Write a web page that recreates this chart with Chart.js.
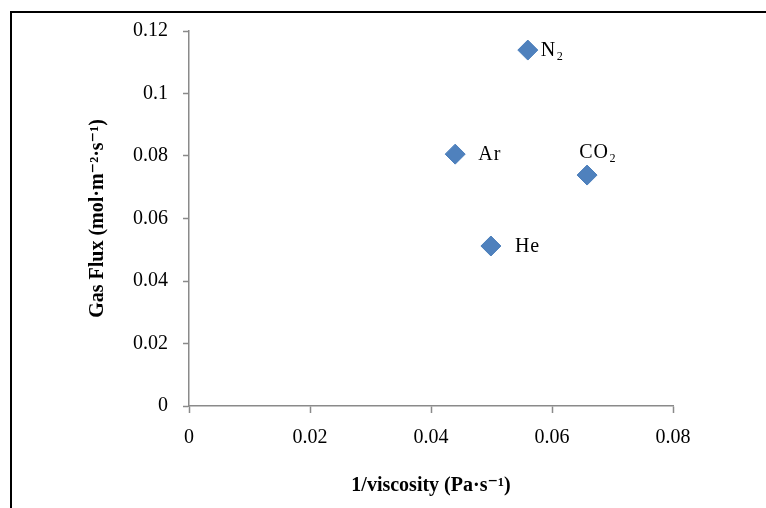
<!DOCTYPE html>
<html>
<head>
<meta charset="utf-8">
<script src="https://cdn.jsdelivr.net/npm/chart.js@4.4.1/dist/chart.umd.min.js"></script>
<style>
  html, body { margin: 0; padding: 0; background: #fff; }
  #wrap { width: 766px; height: 508px; }
</style>
</head>
<body>
<div id="wrap"><canvas id="myChart" width="766" height="508"></canvas></div>
<script>
// data
const gases = ["N₂", "Ar", "He", "CO₂"];
const invViscosity = [0.056, 0.044, 0.0499, 0.0658];
const gasFlux = [0.1139, 0.0806, 0.0512, 0.0739];
const xTicks = [0, 0.02, 0.04, 0.06, 0.08];
const yTicks = [0, 0.02, 0.04, 0.06, 0.08, 0.1, 0.12];

// where each label sits relative to its marker
const labelOffsets = [
  { dx: 13, dy: 1, align: "left" },
  { dx: 23, dy: 1, align: "left" },
  { dx: 24, dy: 1, align: "left" },
  { dx: 11, dy: -22, align: "center" },
];

const serif = "'Liberation Serif', 'Times New Roman', 'DejaVu Serif', serif";
const axisGrey = "#8a8a8a";

const frame = {
  id: "frame",
  afterDraw(chart) {
    const ctx = chart.ctx;
    ctx.save();
    ctx.strokeStyle = "#000";
    ctx.lineWidth = 2;
    ctx.strokeRect(11, 12, 770, 520);
    ctx.restore();
  },
};

const pointLabels = {
  id: "pointLabels",
  afterDatasetsDraw(chart) {
    const ctx = chart.ctx;
    const meta = chart.getDatasetMeta(0);
    ctx.save();
    ctx.font = "20px " + serif;
    ctx.letterSpacing = "1px";
    ctx.fillStyle = "#000";
    ctx.textBaseline = "middle";
    meta.data.forEach((pt, i) => {
      const o = labelOffsets[i];
      ctx.textAlign = o.align;
      ctx.fillText(gases[i], pt.x + o.dx, pt.y + o.dy);
    });
    ctx.restore();
  },
};

const points = invViscosity.map((x, i) => ({ x, y: gasFlux[i] }));

const config = {
  type: "scatter",
  data: {
    datasets: [
      {
        data: points,
        pointStyle: "rectRot",
        pointRadius: 10,
        pointHoverRadius: 10,
        backgroundColor: "#4F81BD",
        borderColor: "#4A7EBB",
        borderWidth: 1,
      },
    ],
  },
  options: {
    responsive: false,
    animation: false,
    layout: { padding: { top: 31, right: 93, left: 0, bottom: 0 } },
    plugins: {
      legend: { display: false },
      tooltip: { enabled: false },
    },
    scales: {
      x: {
        type: "linear",
        min: 0,
        max: 0.08,
        afterFit: (scale) => { scale.height = 102; },
        afterBuildTicks: (scale) => { scale.ticks = xTicks.map((v) => ({ value: v })); },
        grid: {
          drawOnChartArea: false,
          drawTicks: true,
          tickLength: 7,
          tickWidth: 1.5,
          tickColor: axisGrey,
        },
        border: { color: axisGrey, width: 1.5 },
        ticks: {
          padding: 13,
          color: "#000",
          font: { family: serif, size: 20 },
          callback: (v) => String(Number(v.toFixed(2))),
        },
        title: {
          display: true,
          text: "1/viscosity (Pa·s⁻¹)",
          color: "#000",
          font: { family: serif, size: 20, weight: "bold" },
          padding: { top: 0, bottom: 10 },
        },
      },
      y: {
        type: "linear",
        min: 0,
        max: 0.12,
        afterFit: (scale) => { scale.width = 189; },
        afterBuildTicks: (scale) => { scale.ticks = yTicks.map((v) => ({ value: v })); },
        grid: {
          drawOnChartArea: false,
          drawTicks: true,
          tickLength: 6,
          tickWidth: 1.5,
          tickColor: axisGrey,
        },
        border: { color: axisGrey, width: 1.5 },
        ticks: {
          padding: 15,
          color: "#000",
          font: { family: serif, size: 20 },
          callback: (v) => String(Number(v.toFixed(2))),
        },
        title: {
          display: true,
          text: "Gas Flux (mol·m⁻²·s⁻¹)",
          color: "#000",
          font: { family: serif, size: 20, weight: "bold" },
          padding: { top: 86, bottom: 0 },
        },
      },
    },
  },
  plugins: [pointLabels, frame],
};

window.myChart = new Chart(document.getElementById("myChart"), config);
</script>
</body>
</html>
